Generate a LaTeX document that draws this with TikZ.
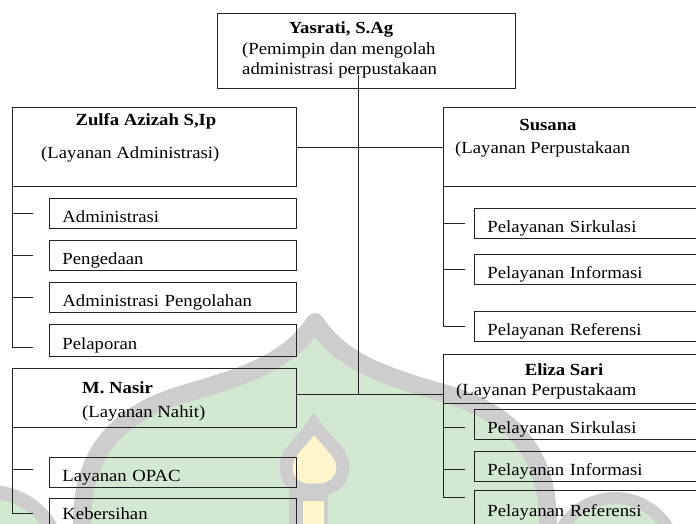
\documentclass[tikz,border=0pt]{standalone}
\usepackage{fontspec}
\setmainfont{Liberation Serif}[FakeStretch=1.1]
\usepackage{tikz}

\definecolor{wmhijau}{RGB}{210,232,208}
\definecolor{wmabu}{RGB}{205,205,205}
\definecolor{wmkuning}{RGB}{255,245,205}
\definecolor{garisgelap}{RGB}{35,35,35}
\newcommand{\teksfont}{\fontsize{17}{20.5}\selectfont}

\begin{document}
\begin{tikzpicture}[x=1pt, y=-1pt,
    garis/.style = {draw=garisgelap, line width=0.9pt},
    kotak/.style = {garis, anchor=north west, inner sep=0pt},
    sub/.style = {garis, anchor=north west, minimum height=30pt, text width=221pt, inner xsep=13pt, inner ysep=0pt, text height=19pt, text depth=1pt, align=left, font=\teksfont},
    subkanan/.style = {sub, text width=234pt},
    teks/.style = {inner sep=0pt, font=\teksfont},
    nama/.style = {inner sep=0pt, font=\teksfont\bfseries},
    wm/.style = {draw=wmabu, fill=wmhijau, line join=round}]
    \useasboundingbox (0,0) rectangle (696,523);
    \clip (0,0) rectangle (696,523);
    \fill[white] (0,0) rectangle (696,523);

    \filldraw[wm, line width=18pt] (82,600) -- (82,523) .. controls (82,450) and (120,412) .. (187,393) .. controls (250,375) and (290,360) .. (315,322) .. controls (340,360) and (380,375) .. (443,393) .. controls (510,412) and (548,450) .. (548,523) -- (548,600);
    \filldraw[wm, line width=14pt] (-10,562) circle (70pt);
    \filldraw[wm, line width=12pt] (615,560) circle (62pt);
    \fill[wmabu] (289,488) rectangle (328,540);
    \fill[wmkuning] (303,501) rectangle (324,540);
    \filldraw[draw=wmabu, fill=wmkuning, line width=13pt, line join=miter] (314,424) .. controls (326,442) and (343,452) .. (343,467) .. controls (343,480) and (334,488) .. (322,490) -- (306,490) .. controls (294,488) and (286,480) .. (286,467) .. controls (286,452) and (302,442) .. cycle;

    \node[kotak, minimum width=298pt, minimum height=75pt] (pimpinan) at (217,13) {};
    \node[kotak, minimum width=284pt, minimum height=79pt] (zulfa) at (12,107) {};
    \node[kotak, minimum width=280pt, minimum height=79pt] (susana) at (443,107) {};
    \node[kotak, minimum width=284pt, minimum height=59pt] (nasir) at (12,368) {};
    \node[kotak, minimum width=280pt, minimum height=49pt] (eliza) at (443,354) {};

    \node[nama, anchor=base] (pimpinannama) at (341,33) {Yasrati, S.Ag};
    \node[teks, anchor=base west] (pimpinantugas) at (242,54) {(Pemimpin dan mengolah};
    \node[teks, anchor=base west] (pimpinantugasb) at (242,74) {administrasi perpustakaan};
    \node[nama, anchor=base] (zulfanama) at (146,125) {Zulfa Azizah S,Ip};
    \node[teks, anchor=base west] (zulfatugas) at (41,158) {(Layanan Administrasi)};
    \node[nama, anchor=base] (susananama) at (548,130) {Susana};
    \node[teks, anchor=base west] (susanatugas) at (455,153) {(Layanan Perpustakaan};
    \node[nama, anchor=base west] (nasirnama) at (82,393) {M. Nasir};
    \node[teks, anchor=base west] (nasirtugas) at (82,417) {(Layanan Nahit)};
    \node[nama, anchor=base] (elizanama) at (564,375) {Eliza Sari};
    \node[teks, anchor=base west] (elizatugas) at (456,395) {(Layanan Perpustakaam};

    \node[sub] (adm) at (49,198) {Administrasi};
    \node[sub] (pengadaan) at (49,240) {Pengedaan};
    \node[sub] (olah) at (49,282) {Administrasi Pengolahan};
    \node[sub, minimum height=32pt] (lapor) at (49,324) {Pelaporan};
    \node[sub] (opac) at (49,457) {Layanan OPAC};
    \node[sub, text height=14pt] (bersih) at (49,498) {Kebersihan};
    \node[subkanan] (sirkulasi) at (474,208) {Pelayanan Sirkulasi};
    \node[subkanan] (informasi) at (474,254) {Pelayanan Informasi};
    \node[subkanan] (referensi) at (474,311) {Pelayanan Referensi};
    \node[subkanan] (sirkulasib) at (474,409) {Pelayanan Sirkulasi};
    \node[subkanan] (informasib) at (474,451) {Pelayanan Informasi};
    \node[subkanan, minimum height=34pt] (referensib) at (474,490) {Pelayanan Referensi};

    \coordinate (pusat) at (358,75);
    \coordinate (simpang) at (358,394);
    \draw[garis] (pusat) -- (simpang);
    \draw[garis] (zulfa.east) -- (zulfa.east -| susana.west);
    \draw[garis] (nasir.east |- simpang) -- (eliza.west |- simpang);

    \foreach \k/\dy in {adm/0, pengadaan/0, olah/0, lapor/-7}
        \draw[garis] (zulfa.south west) |- ([xshift=-16pt, yshift=\dy pt]\k.west);
    \foreach \k/\dy in {opac/3, bersih/0}
        \draw[garis] (nasir.south west) |- ([xshift=-16pt, yshift=\dy pt]\k.west);
    \foreach \k/\dy in {sirkulasi/0, informasi/0, referensi/0}
        \draw[garis] (susana.south west) |- ([xshift=-9pt, yshift=\dy pt]\k.west);
    \foreach \k/\dy in {sirkulasib/-3, informasib/-3, referensib/10}
        \draw[garis] (eliza.south west) |- ([xshift=-9pt, yshift=\dy pt]\k.west);
\end{tikzpicture}
\end{document}
